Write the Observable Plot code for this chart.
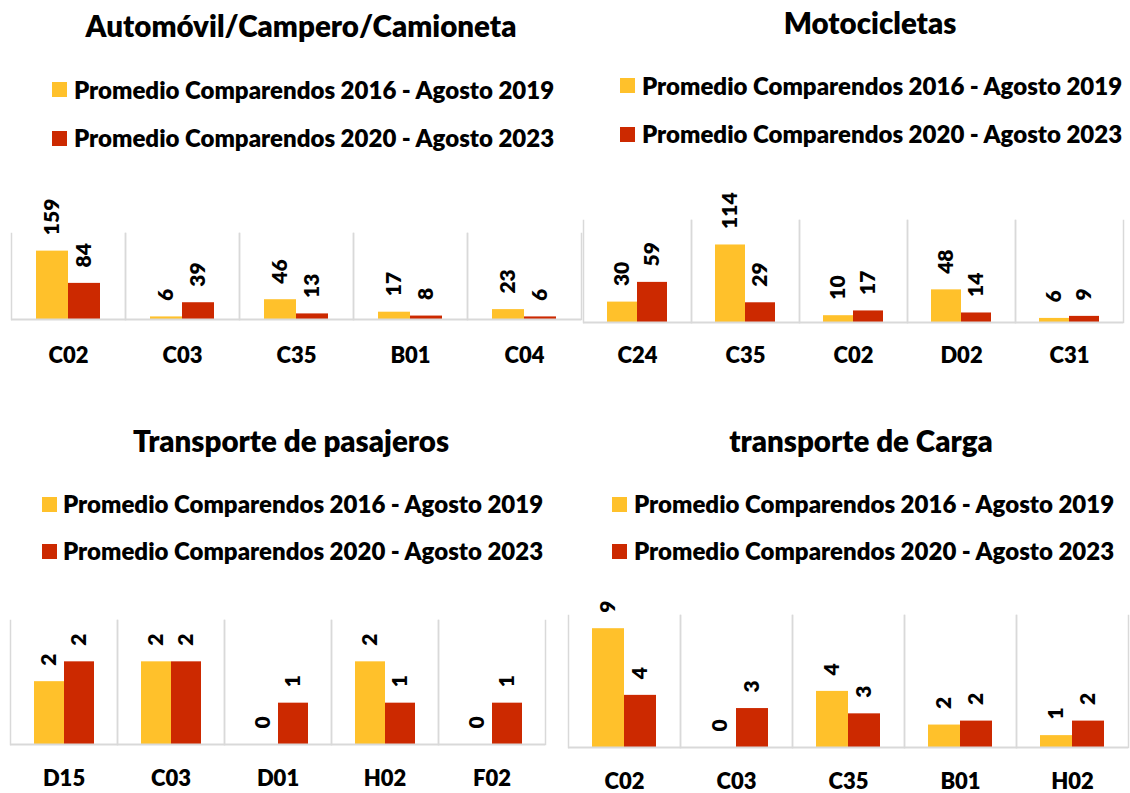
<!DOCTYPE html>
<html>
<head>
<meta charset="utf-8">
<script src="https://cdn.jsdelivr.net/npm/d3@7"></script>
<script src="https://cdn.jsdelivr.net/npm/@observablehq/plot@0.6"></script>
<style>
  html, body { margin: 0; padding: 0; background: #fff; }
  #root { position: relative; width: 1130px; height: 793px; overflow: hidden; font-family: Lato, "Open Sans", sans-serif; font-weight: 800; color: #000; }
  .title { position: absolute; height: 40px; line-height: 40px; white-space: nowrap; transform: translateX(-50%); font-size: 29.5px; }
  .sq { position: absolute; width: 15px; height: 15px; }
  .lg { position: absolute; height: 30px; line-height: 30px; white-space: nowrap; font-size: 24px; }
  .plot { position: absolute; }
  .plot svg { overflow: visible; }
</style>
</head>
<body>
<div id="root"></div>
<script>
// ---- data ----
const series = ["Promedio Comparendos 2016 - Agosto 2019", "Promedio Comparendos 2020 - Agosto 2023"];
const colors = ["#FFC12B", "#CC2900"];

const titles = ["Automóvil/Campero/Camioneta", "Motocicletas", "Transporte de pasajeros", "transporte de Carga"];

const autoCats = ["C02", "C03", "C35", "B01", "C04"];
const auto2016 = [159, 6, 46, 17, 23];
const auto2020 = [84, 39, 13, 8, 6];

const motoCats = ["C24", "C35", "C02", "D02", "C31"];
const moto2016 = [30, 114, 10, 48, 6];
const moto2020 = [59, 29, 17, 14, 9];

const pasCats = ["D15", "C03", "D01", "H02", "F02"];
const pas2016 = [1.52, 2.0, 0, 2.0, 0];
const pas2020 = [2.0, 2.0, 1.0, 1.0, 1.0];

const cargaCats = ["C02", "C03", "C35", "B01", "H02"];
const carga2016 = [9.0, 0, 4.25, 1.7, 0.9];
const carga2020 = [3.95, 2.95, 2.55, 2.0, 2.0];

// ---- layout (styling only) ----
const panels = [
  {title: titles[0], cats: autoCats, v1: auto2016, v2: auto2020, yMax: 200,
   titleX: 301, titleY: 26, sqX: 52, txtX: 74, rows: [89.5, 138],
   left: 0, top: 180, width: 600, mL: 11, mR: 19, mT: 53, plotH: 86, mB: 55, tickPad: 28},
  {title: titles[1], cats: motoCats, v1: moto2016, v2: moto2020, yMax: 150,
   titleX: 870, titleY: 23, sqX: 620, txtX: 642, rows: [85.5, 134],
   left: 565, top: 180, width: 565, mL: 18, mR: 7, mT: 40, plotH: 102, mB: 55, tickPad: 25},
  {title: titles[2], cats: pasCats, v1: pas2016, v2: pas2020, yMax: 3,
   titleX: 291, titleY: 441, sqX: 42, txtX: 63, rows: [504, 551],
   left: 0, top: 580, width: 565, mL: 10, mR: 20, mT: 40, plotH: 124, mB: 48, tickPad: 26},
  {title: titles[3], cats: cargaCats, v1: carga2016, v2: carga2020, yMax: 10,
   titleX: 861, titleY: 441, sqX: 612, txtX: 634, rows: [504, 551],
   left: 565, top: 575, width: 565, mL: 3, mR: 2, mT: 40, plotH: 132, mB: 46, tickPad: 26}
];

const root = document.getElementById("root");
const fmt = d3.format(".0f");

for (const p of panels) {
  const t = document.createElement("div");
  t.className = "title";
  t.textContent = p.title;
  t.style.left = p.titleX + "px";
  t.style.top = (p.titleY - 20) + "px";
  root.appendChild(t);

  series.forEach((s, i) => {
    const sq = document.createElement("div");
    sq.className = "sq";
    sq.style.background = colors[i];
    sq.style.left = p.sqX + "px";
    sq.style.top = (p.rows[i] - 7.5) + "px";
    root.appendChild(sq);
    const lg = document.createElement("div");
    lg.className = "lg";
    lg.textContent = s;
    lg.style.left = p.txtX + "px";
    lg.style.top = (p.rows[i] - 15) + "px";
    root.appendChild(lg);
  });

  const data = p.cats.flatMap((c, i) => [
    {cat: c, serie: series[0], value: p.v1[i]},
    {cat: c, serie: series[1], value: p.v2[i]}
  ]);

  const chart = Plot.plot({
    width: p.width,
    height: p.mT + p.plotH + p.mB,
    marginLeft: p.mL, marginRight: p.mR, marginTop: p.mT, marginBottom: p.mB,
    style: {overflow: "visible", background: "transparent", fontFamily: "Lato, 'Open Sans', sans-serif", fontSize: "21px", fontWeight: "800", color: "#000"},
    fx: {domain: p.cats, padding: 0, label: null},
    x: {domain: series, paddingInner: 0, paddingOuter: 0.75, axis: null},
    y: {domain: [0, p.yMax], axis: null},
    color: {domain: series, range: colors},
    marks: [
      Plot.frame({anchor: "left", stroke: "#d9d9d9", strokeWidth: 1.5}),
      Plot.frame({anchor: "right", stroke: "#d9d9d9", strokeWidth: 1.5}),
      Plot.barY(data, {fx: "cat", x: "serie", y: "value", fill: "serie"}),
      Plot.ruleY([0], {stroke: "#d9d9d9", strokeWidth: 2}),
      Plot.text(data, {fx: "cat", x: "serie", y: "value", text: d => fmt(d.value),
        rotate: -90, textAnchor: "start", dy: -16, fontSize: 21, fontWeight: 800, fill: "#000"}),
      Plot.axisFx({anchor: "bottom", tickSize: 0, tickPadding: p.tickPad, fontSize: 22, fontWeight: 800, label: null})
    ]
  });
  const holder = document.createElement("div");
  holder.className = "plot";
  holder.style.left = p.left + "px";
  holder.style.top = p.top + "px";
  holder.appendChild(chart);
  root.appendChild(holder);
}
</script>
</body>
</html>
